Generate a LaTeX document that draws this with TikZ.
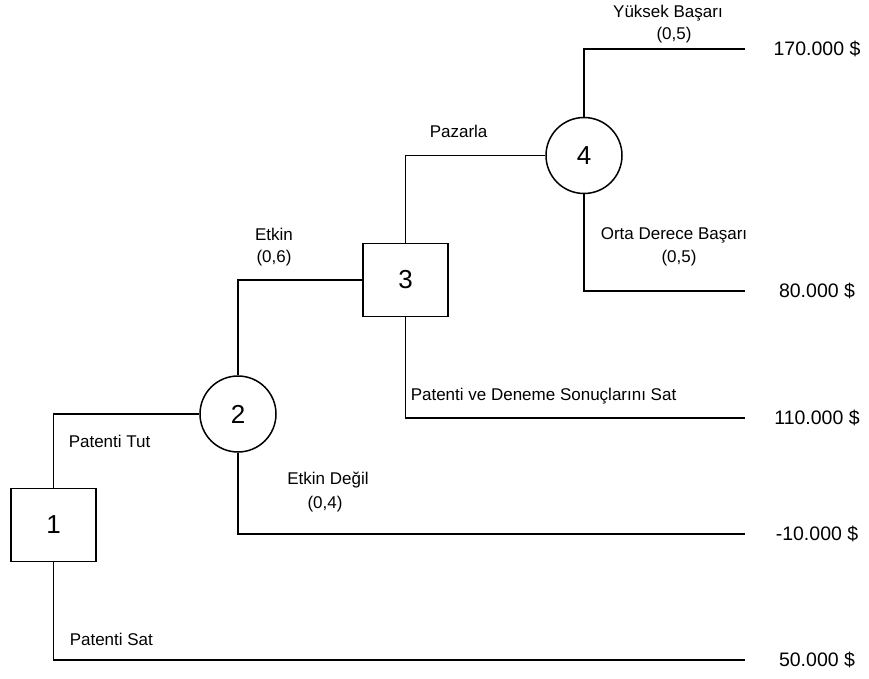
\documentclass[tikz,border=0pt]{standalone}
\usepackage{fontspec}
\setmainfont{Liberation Sans}
\begin{document}
\begin{tikzpicture}[x=1pt,y=-1pt,
  line width=1.5pt,
  decbox/.style={draw, line width=1.5pt, minimum width=85pt, minimum height=73pt, inner sep=0pt, font=\fontsize{26}{30}\selectfont},
  chance/.style={draw, line width=1.5pt, circle, minimum size=76pt, inner sep=0pt, font=\fontsize{26}{30}\selectfont},
  lbl/.style={anchor=base, inner sep=0pt, font=\fontsize{17}{20}\selectfont},
  lbll/.style={anchor=base west, inner sep=0pt, font=\fontsize{17}{20}\selectfont},
  val/.style={inner sep=0pt, font=\fontsize{19.5}{23}\selectfont},
  branch/.style={draw, line width=1.5pt}]
\useasboundingbox (0,0) rectangle (869,679);
% nodes
\node[decbox] (b1) at (53.5,525) {1};
\node[chance] (c2) at (238,414) {2};
\node[decbox] (b3) at (405.5,280) {3};
\node[chance] (c4) at (584,155.5) {4};
% end points
\coordinate (e170) at (745,49);
\coordinate (e80) at (745,291);
\coordinate (e110) at (745,418);
\coordinate (em10) at (745,534);
\coordinate (e50) at (745,660);
% connectors
\draw[branch] (b1.north) |- (c2.west);
\draw[branch] (b1.south) |- (e50);
\draw[branch] (c2.north) |- (b3.west);
\draw[branch] (c2.south) |- (em10);
\draw[branch] (b3.north) |- (c4.west);
\draw[branch] (b3.south) |- (e110);
\draw[branch] (c4.north) |- (e170);
\draw[branch] (c4.south) |- (e80);
% values
\node[val] (v170) at (817,49) {170.000 \$};
\node[val] (v80) at (817,291) {80.000 \$};
\node[val] (v110) at (817,418) {110.000 \$};
\node[val] (vm10) at (817,534) {-10.000 \$};
\node[val] (v50) at (817,660) {50.000 \$};
% branch labels
\node[lbll] (lt) at (68,447) {Patenti Tut};
\node[lbll] (ls) at (69,645) {Patenti Sat};
\node[lbll] (lpd) at (410,400) {Patenti ve Deneme Sonuçlarını Sat};
\node[lbll] (lpz) at (429,138) {Pazarla};
\node[lbl] (le1) at (274,240) {Etkin};
\node[lbl] (le2) at (274,262) {(0,6)};
\node[lbl] (led1) at (328,484) {Etkin Değil};
\node[lbl] (led2) at (325,508) {(0,4)};
\node[lbl] (ly1) at (668,18) {Yüksek Başarı};
\node[lbl] (ly2) at (674,40) {(0,5)};
\node[lbl] (lo1) at (674,239) {Orta Derece Başarı};
\node[lbl] (lo2) at (679,262) {(0,5)};
\end{tikzpicture}
\end{document}
